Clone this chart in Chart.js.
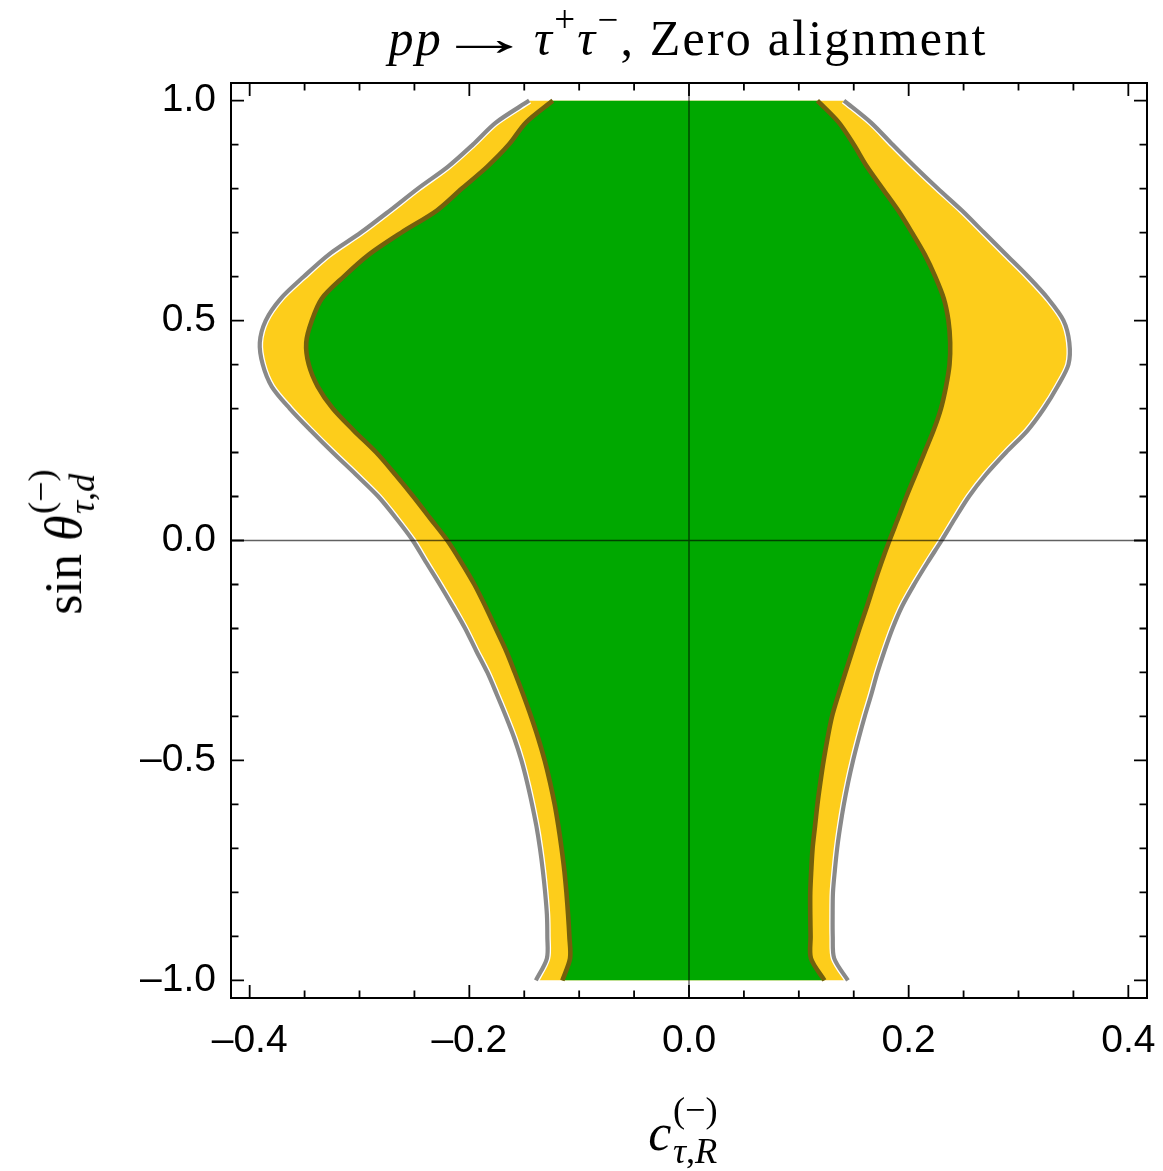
<!DOCTYPE html>
<html>
<head>
<meta charset="utf-8">
<script src="https://cdn.jsdelivr.net/npm/chart.js@4.4.1/dist/chart.umd.min.js"></script>
<style>
  html, body { margin: 0; padding: 0; background: #fff; }
  #wrap { position: relative; width: 1163px; height: 1171px; overflow: hidden; }
  #c { position: absolute; left: 0; top: 0; }
  .tex { position: absolute; font-family: "Liberation Serif", "DejaVu Serif", serif; color: #000;
         white-space: nowrap; line-height: 1; }
  .tex i { font-style: italic; }
  .sup { position: relative; top: -0.62em; font-size: 0.74em; }
  .arrow { display: inline-block; transform: scaleX(1.9); margin: 0 0.42em 0 0.36em; }
  .ss { display: inline-block; position: relative; font-size: 0.7em; line-height: 1; margin-left: 0.04em; }
  .ss .sp { position: relative; top: -0.78em; }
  .ss .sb { position: absolute; left: 0; top: 0.36em; }
  #title { font-size: 50px; letter-spacing: 2.2px; left: 688px; top: 13px; transform: translateX(-50%); }
  #xlab { font-size: 52px; left: 683px; top: 1107px; transform: translateX(-50%); }
  #ylab { font-size: 52px; left: 64px; top: 542px; transform: translate(-50%, -50%) rotate(-90deg); }
</style>
</head>
<body>
<div id="wrap">
  <canvas id="c" width="1163" height="1171"></canvas>
  <div id="title" class="tex"><i>pp</i><span class="arrow">→</span><i>τ</i><span class="sup">+</span><i>τ</i><span class="sup">−</span>, Zero alignment</div>
  <div id="xlab" class="tex"><i>c</i><span class="ss"><span class="sp">(−)</span><span class="sb"><i>τ</i>,<i>R</i></span></span></div>
  <div id="ylab" class="tex">sin <i>θ</i><span class="ss"><span class="sp">(−)</span><span class="sb"><i>τ</i>,<i>d</i></span></span></div>
</div>
<script>
// sin θ sampling of the allowed-region boundaries (top to bottom)
const sinTheta = [1.00, 0.95, 0.90, 0.85, 0.80, 0.75, 0.70, 0.65, 0.60, 0.55,
                  0.50, 0.45, 0.40, 0.35, 0.30, 0.25, 0.20, 0.15, 0.10, 0.05,
                  0.00, -0.05, -0.10, -0.15, -0.20, -0.25, -0.30, -0.35, -0.40, -0.45,
                  -0.50, -0.55, -0.60, -0.65, -0.70, -0.75, -0.80, -0.85, -0.90, -0.95,
                  -1.00];

// outer (yellow) region: left and right edges in c_{τ,R}
const outerLeft = [-0.1455, -0.1759, -0.1968, -0.2194, -0.2469, -0.2724, -0.2988, -0.3280, -0.3507, -0.3717,
                   -0.3854, -0.3908, -0.3881, -0.3799, -0.3635, -0.3444, -0.3243, -0.3033, -0.2829, -0.2665,
                   -0.2515, -0.2393, -0.2269, -0.2151, -0.2038, -0.1939, -0.1836, -0.1750, -0.1667, -0.1590,
                   -0.1526, -0.1474, -0.1429, -0.1389, -0.1357, -0.1331, -0.1310, -0.1294, -0.1290, -0.1294,
                   -0.1394];
const outerRight = [0.1411, 0.1657, 0.1853, 0.2054, 0.2265, 0.2485, 0.2686, 0.2886, 0.3087, 0.3269,
                    0.3410, 0.3463, 0.3455, 0.3355, 0.3232, 0.3082, 0.2886, 0.2704, 0.2549, 0.2422,
                    0.2300, 0.2172, 0.2050, 0.1939, 0.1853, 0.1781, 0.1716, 0.1660, 0.1600, 0.1545,
                    0.1494, 0.1449, 0.1410, 0.1377, 0.1349, 0.1328, 0.1311, 0.1308, 0.1309, 0.1322,
                    0.1447];

// inner (green) region: left and right edges
const innerLeft = [-0.1240, -0.1485, -0.1640, -0.1836, -0.2068, -0.2296, -0.2619, -0.2915, -0.3143, -0.3343,
                   -0.3434, -0.3485, -0.3462, -0.3380, -0.3243, -0.3052, -0.2847, -0.2674, -0.2510, -0.2355,
                   -0.2200, -0.2072, -0.1954, -0.1853, -0.1759, -0.1666, -0.1586, -0.1510, -0.1438, -0.1372,
                   -0.1314, -0.1265, -0.1223, -0.1189, -0.1160, -0.1135, -0.1116, -0.1101, -0.1089, -0.1083,
                   -0.1153];
const innerRight = [0.1169, 0.1365, 0.1500, 0.1620, 0.1762, 0.1905, 0.2030, 0.2147, 0.2242, 0.2320,
                    0.2362, 0.2378, 0.2372, 0.2340, 0.2294, 0.2226, 0.2144, 0.2062, 0.1980, 0.1903,
                    0.1825, 0.1752, 0.1684, 0.1620, 0.1552, 0.1488, 0.1424, 0.1361, 0.1302, 0.1261,
                    0.1226, 0.1196, 0.1169, 0.1147, 0.1125, 0.1113, 0.1104, 0.1104, 0.1107, 0.1110,
                    0.1233];

// labelled ticks
const xTickValues = [-0.4, -0.2, 0.0, 0.2, 0.4];
const yTickValues = [-1.0, -0.5, 0.0, 0.5, 1.0];

const GREEN = '#00a800';
const YELLOW = '#fdcd1b';
const BROWN = '#735f0c';
const GRAY = '#898989';

const curve = xs => xs.map((x, i) => ({ x: x, y: sinTheta[i] }));
const fmt = v => (v < 0 ? '\u2013' : '') + Math.abs(v).toFixed(1);

// frame, inward ticks on all four sides, and the zero lines
const frameAndTicks = {
  id: 'frameAndTicks',
  afterDatasetsDraw(chart) {
    const { ctx, chartArea: a, scales } = chart;
    const sx = scales.x, sy = scales.y;
    ctx.save();
    ctx.beginPath();
    ctx.rect(a.left, a.top, a.width, a.height);
    ctx.clip();
    ctx.strokeStyle = 'rgba(0,0,0,0.62)';
    ctx.lineWidth = 1.4;
    const x0 = sx.getPixelForValue(0), y0 = sy.getPixelForValue(0);
    ctx.beginPath();
    ctx.moveTo(x0, a.top); ctx.lineTo(x0, a.bottom);
    ctx.moveTo(a.left, y0); ctx.lineTo(a.right, y0);
    ctx.stroke();
    ctx.restore();

    ctx.save();
    ctx.strokeStyle = '#000';
    ctx.lineWidth = 1.8;
    ctx.beginPath();
    for (let k = -8; k <= 8; k++) {
      const px = sx.getPixelForValue(k * 0.05);
      const len = (k % 4 === 0) ? 13 : 7.5;
      ctx.moveTo(px, a.bottom); ctx.lineTo(px, a.bottom - len);
      ctx.moveTo(px, a.top); ctx.lineTo(px, a.top + len);
    }
    for (let k = -10; k <= 10; k++) {
      const py = sy.getPixelForValue(k / 10);
      const len = (k % 5 === 0) ? 13 : 7.5;
      ctx.moveTo(a.left, py); ctx.lineTo(a.left + len, py);
      ctx.moveTo(a.right, py); ctx.lineTo(a.right - len, py);
    }
    ctx.stroke();
    ctx.lineWidth = 2;
    ctx.strokeRect(a.left, a.top, a.width, a.height);
    ctx.restore();
  }
};

const tickFont = { family: '"Liberation Sans", Arial, sans-serif', size: 39 };

new Chart(document.getElementById('c'), {
  type: 'line',
  data: {
    datasets: [
      { data: curve(innerLeft), borderColor: BROWN, borderWidth: 4.6, fill: '+1', backgroundColor: GREEN },
      { data: curve(innerRight), borderColor: BROWN, borderWidth: 4.6, fill: false },
      { data: curve(outerLeft), borderColor: GRAY, borderWidth: 4.2, fill: false },
      { data: curve(outerRight), borderColor: GRAY, borderWidth: 4.2, fill: false },
      { data: curve(outerLeft), borderColor: '#ffffff', borderWidth: 6.8, fill: '+1', backgroundColor: YELLOW },
      { data: curve(outerRight), borderColor: '#ffffff', borderWidth: 6.8, fill: false }
    ]
  },
  options: {
    responsive: false,
    animation: false,
    indexAxis: 'y',
    layout: { padding: { left: 0, right: 16, top: 83, bottom: 0 } },
    elements: {
      point: { radius: 0, hoverRadius: 0 },
      line: { tension: 0.3, borderCapStyle: 'butt', borderJoinStyle: 'round' }
    },
    plugins: {
      legend: { display: false },
      tooltip: { enabled: false },
      title: { display: false },
      filler: { drawTime: 'beforeDatasetsDraw' }
    },
    scales: {
      x: {
        type: 'linear', position: 'bottom', min: -0.417, max: 0.417,
        afterBuildTicks: s => { s.ticks = xTickValues.map(v => ({ value: v })); },
        afterFit: s => { s.height = 173; s.paddingLeft = 0; s.paddingRight = 0; },
        grid: { display: false, drawTicks: false },
        border: { display: false },
        ticks: { font: tickFont, color: '#000', padding: 20, maxRotation: 0, autoSkip: false,
                 callback: v => fmt(v) }
      },
      y: {
        type: 'linear', position: 'left', min: -1.04, max: 1.04,
        afterBuildTicks: s => { s.ticks = yTickValues.map(v => ({ value: v })); },
        afterFit: s => { s.width = 231; s.paddingTop = 0; s.paddingBottom = 0; },
        grid: { display: false, drawTicks: false },
        border: { display: false },
        ticks: { font: tickFont, color: '#000', padding: 15, autoSkip: false,
                 callback: v => fmt(v) }
      }
    }
  },
  plugins: [frameAndTicks]
});
</script>
</body>
</html>
